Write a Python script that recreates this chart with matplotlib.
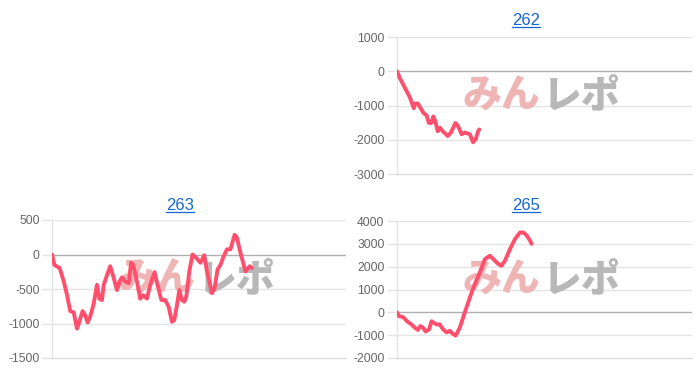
import matplotlib
matplotlib.use("Agg")
import matplotlib.pyplot as plt
from matplotlib.lines import Line2D

plt.rcParams['axes.unicode_minus'] = False
plt.rcParams['font.family'] = ['Liberation Sans', 'DejaVu Sans']

# ---- data (x = position along the game axis, % of axis span; y = difference in medals) ----
titles = ["262", "263", "265"]

x262 = [0, 0.9, 2.6, 4.3, 5.7, 6.2, 7.1, 8.0, 9.1, 10.0, 10.8, 11.6, 12.3, 13.0, 13.8,
        14.6, 15.5, 17.2, 18.3, 19.8, 20.7, 21.9, 23.0, 24.7, 25.8, 26.7, 27.5, 27.9]
y262 = [0, -190, -470, -750, -1080, -940, -940, -1080, -1230, -1280, -1510, -1510, -1320,
        -1460, -1750, -1650, -1750, -1890, -1790, -1510, -1600, -1840, -1790, -1840, -2075,
        -1980, -1750, -1700]

x263 = [0, 0.8, 1.5, 2.6, 4.0, 5.1, 6.2, 7.4, 8.5, 9.3, 10.4, 11.3, 12.1, 13.0, 14.2, 15.3,
        16.1, 17.0, 17.6, 18.7, 19.8, 21.0, 22.1, 23.0, 23.8, 24.9, 26.1, 26.9, 27.6, 28.9,
        30.0, 31.0, 32.3, 33.4, 34.9, 35.9, 37.2, 38.5, 39.7, 40.8, 41.6, 42.5, 43.3, 44.2,
        45.0, 45.7, 46.7, 47.8, 49.3, 50.5, 51.8, 52.7, 54.4, 55.3, 56.3, 57.3, 58.4, 59.5,
        60.7, 62.1, 62.9, 64.1, 65.8, 67.2, 68.0]
y263 = [0, -150, -170, -195, -390, -585, -820, -840, -1075, -975, -820, -880, -985, -900,
        -710, -440, -640, -660, -440, -300, -170, -340, -515, -390, -330, -390, -415, -120,
        -150, -390, -640, -590, -640, -440, -255, -440, -660, -660, -760, -975, -950, -735,
        -515, -660, -685, -610, -245, 0, -60, -120, -10, -245, -560, -490, -220, -150, -25,
        75, 75, 285, 245, 25, -245, -170, -195]

x265 = [0, 0.7, 2.0, 3.4, 4.9, 6.0, 7.1, 7.9, 8.8, 9.7, 10.9, 11.7, 12.5, 13.4, 14.5, 15.6,
        16.8, 17.9, 19.0, 19.9, 21.3, 23.0, 24.7, 26.4, 28.1, 29.8, 31.5, 33.2, 34.3, 35.4,
        36.6, 38.3, 40.0, 41.7, 42.8, 43.9, 45.1, 45.6]
y265 = [0, -170, -200, -390, -530, -670, -770, -600, -670, -840, -740, -390, -460, -530,
        -530, -740, -880, -810, -950, -1020, -670, 0, 650, 1240, 1750, 2330, 2480, 2260,
        2120, 2040, 2260, 2770, 3210, 3500, 3500, 3380, 3140, 3000]

yticks262 = [-3000, -2000, -1000, 0, 1000]
yticks263 = [-1500, -1000, -500, 0, 500]
yticks265 = [-2000, -1000, 0, 1000, 2000, 3000, 4000]

watermark_a = "みん"
watermark_b = "レポ"

LINE_COLOR = '#FF4F6C'
GRID = '#e4e4e4'
ZERO = '#b0b0b0'

fig = plt.figure(figsize=(7.0, 3.74), dpi=100)

panels = [
    (titles[0], x262, y262, yticks262, [397/700, 1-174/374, 295/700, 137/374], (526, 25)),
    (titles[1], x263, y263, yticks263, [52/700, 1-358/374, 294/700, 138/374], (180, 210)),
    (titles[2], x265, y265, yticks265, [397/700, 1-358/374, 295/700, 137/374], (526, 210)),
]

title_texts = []
for title, xs, ys, yt, rect, tpos in panels:
    ax = fig.add_axes(rect)
    ax.set_xlim(0, 100)
    ax.set_ylim(yt[0], yt[-1])
    ax.set_yticks(yt)
    ax.set_yticklabels([str(v) for v in yt])
    ax.set_xticks([])
    for s in ['top', 'right']:
        ax.spines[s].set_visible(False)
    ax.spines['left'].set_color(GRID)
    ax.spines['bottom'].set_color('#dcdcdc')
    ax.spines['left'].set_linewidth(1.0)
    ax.spines['bottom'].set_linewidth(1.0)
    ax.tick_params(axis='y', length=7, width=1.0, color=GRID, pad=2,
                   labelsize=8.7, labelcolor='#666666')
    for v in yt[1:]:
        ax.axhline(v, color=ZERO if v == 0 else GRID, lw=1.0, zorder=0.5)
    ax.set_facecolor('white')
    # watermark
    ax.text(0.487, 0.57, watermark_a, transform=ax.transAxes, ha='right', va='center',
            fontsize=28, fontweight='heavy', color='#EFB5B5',
            family=['Noto Sans CJK JP', 'DejaVu Sans'], zorder=1)
    ax.text(0.493, 0.57, watermark_b, transform=ax.transAxes, ha='left', va='center',
            fontsize=28, fontweight='heavy', color='#B8B8B8',
            family=['Noto Sans CJK JP', 'DejaVu Sans'], zorder=1)
    ax.plot(xs, ys, color=LINE_COLOR, lw=2.8, solid_joinstyle='round',
            solid_capstyle='round', zorder=3)
    t = fig.text(tpos[0]/700, 1 - tpos[1]/374, title, ha='center', va='baseline',
                 fontsize=12, color='#1466D2')
    title_texts.append(t)

fig.canvas.draw()
renderer = fig.canvas.get_renderer()
for t in title_texts:
    bb = t.get_window_extent(renderer)
    ybase = t.get_position()[1] * fig.bbox.height - 1.8
    fig.add_artist(Line2D([bb.x0/fig.bbox.width, bb.x1/fig.bbox.width],
                          [ybase/fig.bbox.height, ybase/fig.bbox.height],
                          transform=fig.transFigure, color='#1466D2', lw=0.9))

fig.savefig('out.png', dpi=100)
